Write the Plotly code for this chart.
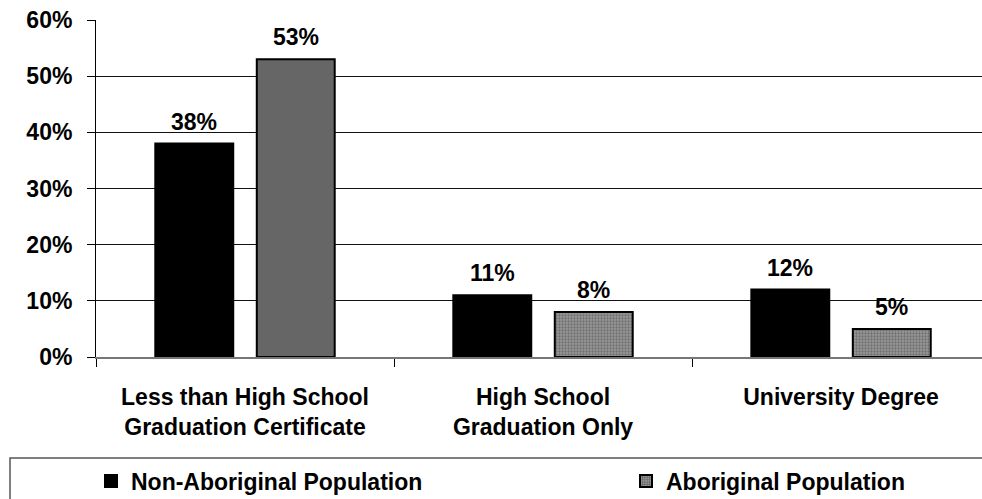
import plotly.graph_objects as go

categories = ["Less than High School<br>Graduation Certificate",
              "High School<br>Graduation Only",
              "University Degree"]
non_aboriginal = [0.38, 0.11, 0.12]
aboriginal = [0.53, 0.08, 0.05]
y_ticks = [0, 0.1, 0.2, 0.3, 0.4, 0.5, 0.6]
y_labels = ["0%", "10%", "20%", "30%", "40%", "50%", "60%"]
series_names = ["Non-Aboriginal Population", "Aboriginal Population"]

FONT = "Liberation Sans, Arial, sans-serif"
FS = 23
PAT = dict(fgcolor="#111111", size=3, solidity=0.45)

fig = go.Figure()
fig.add_trace(go.Bar(
    x=categories, y=non_aboriginal, name=series_names[0], offsetgroup="n",
    legend="legend",
    marker=dict(color="black", line=dict(color="black", width=2)),
))
fig.add_trace(go.Bar(
    x=categories, y=aboriginal, name=series_names[1], offsetgroup="a",
    showlegend=False,
    marker=dict(color=["#666666", "#999999", "#999999"],
                line=dict(color="black", width=2),
                pattern=dict(shape=["", ".", "."],
                             bgcolor=["#666666", "#a0a0a0", "#a0a0a0"], **PAT)),
))
# legend entry for the patterned series
fig.add_trace(go.Bar(
    x=[categories[0]], y=[None], name=series_names[1], offsetgroup="a",
    legend="legend2",
    marker=dict(color="#999999", line=dict(color="black", width=2),
                pattern=dict(shape=".", bgcolor="#a0a0a0", **PAT)),
))

annotations = []
for vals, shift in ((non_aboriginal, -50.75), (aboriginal, 50.75)):
    for c, v in zip(categories, vals):
        annotations.append(dict(
            x=c, y=v, xref="x", yref="y", text=f"{round(v*100)}%",
            showarrow=False, xshift=shift, yshift=7, yanchor="bottom",
            font=dict(family=FONT, size=FS, color="black", weight="bold"),
        ))

legend_common = dict(orientation="h", xanchor="left", y=-0.368, yanchor="middle",
                     font=dict(family=FONT, size=FS, color="black", weight="bold"),
                     bgcolor="rgba(0,0,0,0)", borderwidth=0)

fig.update_layout(
    width=982, height=499,
    margin=dict(l=96, r=0, t=20, b=142, autoexpand=False),
    paper_bgcolor="white", plot_bgcolor="white",
    barmode="group", bargap=0.319, bargroupgap=0.232,
    font=dict(family=FONT, size=FS, color="black", weight="bold"),
    annotations=annotations,
    legend=dict(x=(91 - 96) / 886, **legend_common),
    legend2=dict(x=(626 - 96) / 886, **legend_common),
    shapes=[dict(type="rect", xref="paper", yref="paper",
                 x0=(10 - 96) / 886, x1=(995 - 96) / 886,
                 y0=(357 - 510) / 337, y1=(357 - 458) / 337,
                 line=dict(color="#555555", width=1.5))],
)
fig.update_xaxes(
    range=[-0.5, 2.473], tickson="boundaries", ticks="outside", ticklen=8,
    tickcolor="black", showline=True, linecolor="#777777", linewidth=2,
    showgrid=False, ticklabelstandoff=18,
    tickfont=dict(family=FONT, size=FS, color="black", weight="bold"),
)
fig.update_yaxes(
    range=[0, 0.6], tickvals=y_ticks, ticktext=y_labels,
    ticks="outside", ticklen=8, tickcolor="black",
    showline=True, linecolor="black", linewidth=1,
    showgrid=True, gridcolor="#111111", gridwidth=1, zeroline=False,
    ticklabelstandoff=10,
    tickfont=dict(family=FONT, size=FS, color="black", weight="bold"),
)

fig.write_html("out.html")
